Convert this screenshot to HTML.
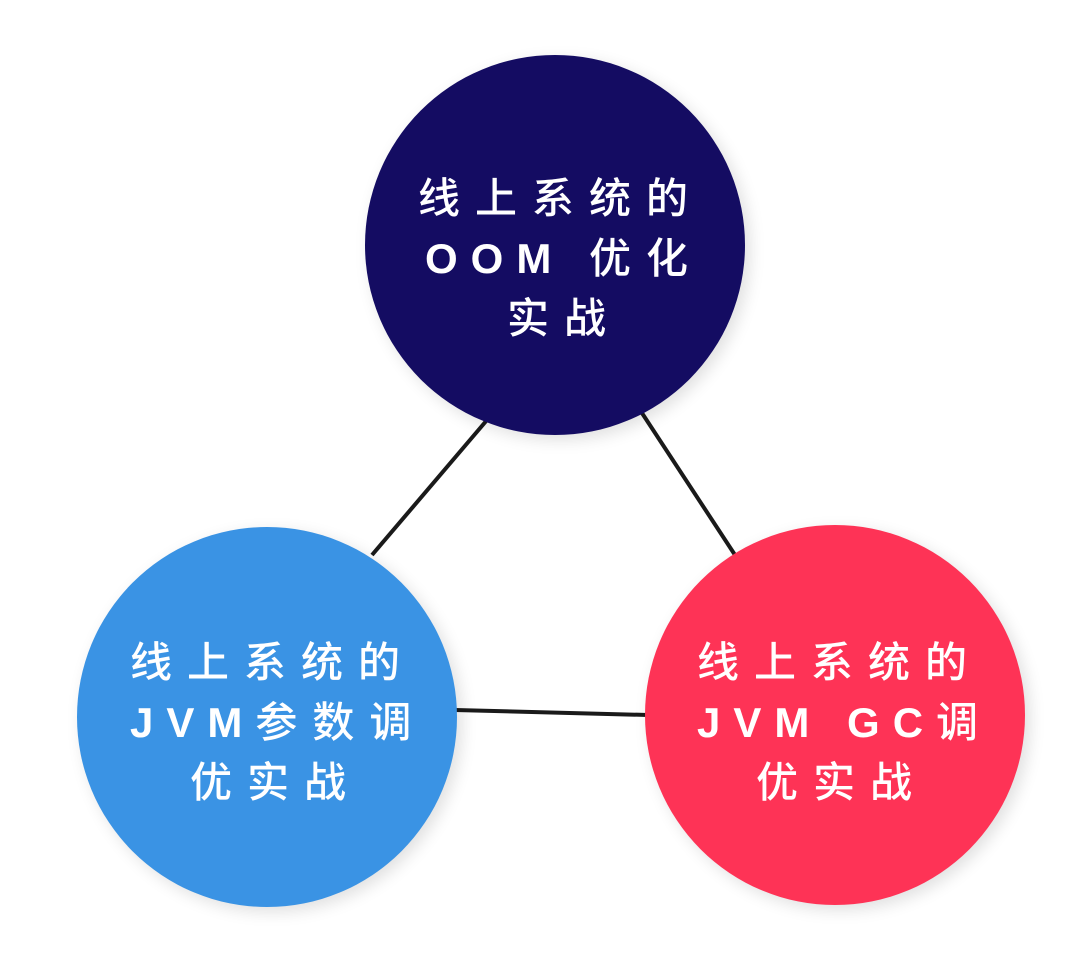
<!DOCTYPE html>
<html><head><meta charset="utf-8"><style>
html,body{margin:0;padding:0;background:#fff;}
svg text{font-family:"Liberation Sans","Noto Sans CJK SC",sans-serif;font-size:42px;font-weight:500;fill:#fff;letter-spacing:15px;}
svg text tspan.l{font-size:42px;font-weight:700;letter-spacing:13px;}
</style></head><body>
<svg width="1080" height="969" viewBox="0 0 1080 969" xmlns="http://www.w3.org/2000/svg">
<defs><filter id="s" x="-20%" y="-20%" width="140%" height="140%"><feGaussianBlur stdDeviation="8"/></filter></defs>
<g stroke="#1a1a1a" stroke-width="4">
<line x1="487" y1="420" x2="372" y2="555"/>
<line x1="640" y1="410" x2="735" y2="555"/>
<line x1="455" y1="710" x2="648" y2="715"/>
</g>
<circle cx="560" cy="250" r="190" fill="#000" opacity="0.12" filter="url(#s)"/>
<circle cx="272" cy="722" r="190" fill="#000" opacity="0.12" filter="url(#s)"/>
<circle cx="840" cy="720" r="190" fill="#000" opacity="0.12" filter="url(#s)"/>
<circle cx="555" cy="245" r="190" fill="#140c62"/>
<circle cx="267" cy="717" r="190" fill="#3a93e4"/>
<circle cx="835" cy="715" r="190" fill="#fe3356"/>
<text x="418" y="213">线上系统的</text>
<text x="425" y="273"><tspan class="l">OOM </tspan>优化</text>
<text x="507" y="333">实战</text>
<text x="130" y="677">线上系统的</text>
<text x="130" y="737"><tspan class="l">JVM</tspan>参数调</text>
<text x="190" y="797">优实战</text>
<text x="697" y="677">线上系统的</text>
<text x="697" y="737"><tspan class="l">JVM GC</tspan>调</text>
<text x="756" y="797">优实战</text>
</svg>
</body></html>
